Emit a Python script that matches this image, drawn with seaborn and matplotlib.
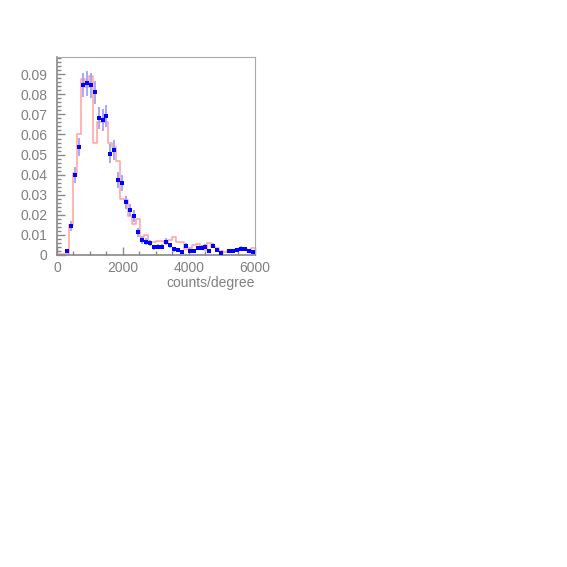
import numpy as np
import matplotlib
matplotlib.use('Agg')
import matplotlib.pyplot as plt
from matplotlib.ticker import MultipleLocator
import seaborn as sns

# 50 bins of 120 counts/degree between 0 and 6000
bin_edges = [120 * i for i in range(51)]
bin_centers = [60 + 120 * i for i in range(50)]

# simulation (pink step histogram)
sim_values = [0.0005, 0.0005, 0.0005, 0.015, 0.041, 0.060, 0.0875, 0.0839, 0.089, 0.056,
              0.066, 0.066, 0.066, 0.056, 0.0537, 0.0468, 0.0277, 0.0274, 0.0196, 0.0153,
              0.0178, 0.0091, 0.0098, 0.0063, 0.0066, 0.0070, 0.0070, 0.0058, 0.0075, 0.0088,
              0.0066, 0.0063, 0.0032, 0.0035, 0.0050, 0.0053, 0.0042, 0.0023, 0.0061, 0.0038,
              0.0037, 0.0020, 0.0017, 0.0022, 0.0025, 0.0028, 0.0037, 0.0030, 0.0018, 0.0037]

# data points (blue) with errors
data_values = [np.nan, np.nan, 0.0018, 0.0146, 0.0400, 0.0538, 0.0845, 0.0854, 0.0844, 0.0810,
               0.0681, 0.0673, 0.0694, 0.0505, 0.0523, 0.0375, 0.0357, 0.0262, 0.0223, 0.0194,
               0.0113, 0.0075, 0.0066, 0.0060, 0.0038, 0.0042, 0.0042, 0.0066, 0.0048, 0.0028,
               0.0025, 0.0013, 0.0047, 0.0018, 0.0020, 0.0035, 0.0037, 0.0042, 0.0022, 0.0047,
               0.0023, 0.0008, np.nan, 0.0020, 0.0018, 0.0025, 0.0032, 0.0030, 0.0020, 0.0013]
data_errors = [0, 0, 0.0010, 0.0025, 0.0040, 0.0045, 0.0060, 0.0060, 0.0060, 0.0058,
               0.0055, 0.0055, 0.0055, 0.0047, 0.0048, 0.0040, 0.0040, 0.0033, 0.0031, 0.0029,
               0.0022, 0.0018, 0.0017, 0.0016, 0.0013, 0.0013, 0.0013, 0.0017, 0.0014, 0.0011,
               0.0011, 0.0008, 0.0014, 0.0009, 0.0009, 0.0012, 0.0012, 0.0013, 0.0010, 0.0014,
               0.0010, 0.0006, 0, 0.0009, 0.0009, 0.0010, 0.0011, 0.0011, 0.0009, 0.0008]

sns.set_style('white')
plt.rcParams['font.family'] = ['Liberation Sans', 'DejaVu Sans']

fig = plt.figure(figsize=(5.67, 5.67), dpi=100)
ax = fig.add_axes([0.1005, 0.5503, 0.3492, 0.3492])

# simulation histogram
sns.histplot(x=bin_centers, weights=sim_values, bins=bin_edges, element='step',
             fill=False, color='#ffa0a0', linewidth=1.1, ax=ax)

# data with error bars
ax.errorbar(bin_centers, data_values, yerr=data_errors, fmt='none',
            ecolor='#a0a0ff', elinewidth=1.3, capsize=0, zorder=3)
sns.scatterplot(x=bin_centers, y=data_values, marker='s', s=5, color='#0000ff',
                edgecolor='#0000ff', linewidth=0, ax=ax, zorder=4)

ax.set_xlim(0, 6000)
ax.set_ylim(0, 0.0986)
ax.set_xticks([0, 2000, 4000, 6000])
ax.xaxis.set_minor_locator(MultipleLocator(500))
ax.set_yticks([0, 0.01, 0.02, 0.03, 0.04, 0.05, 0.06, 0.07, 0.08, 0.09])
ax.set_yticklabels(['0', '0.01', '0.02', '0.03', '0.04', '0.05', '0.06', '0.07', '0.08', '0.09'])
ax.yaxis.set_minor_locator(MultipleLocator(0.002))

ax.tick_params(axis='both', which='both', direction='in', colors='#888888',
               labelcolor='#808080', labelsize=10, bottom=True, left=True,
               top=False, right=False)
ax.tick_params(axis='both', which='major', length=6, width=1)
ax.tick_params(axis='both', which='minor', length=3, width=1)
ax.tick_params(axis='x', pad=4)
ax.tick_params(axis='y', pad=7)

for side in ['left', 'bottom']:
    ax.spines[side].set_color('#888888')
    ax.spines[side].set_linewidth(1.2)
for side in ['top', 'right']:
    ax.spines[side].set_color('#aaaaaa')
    ax.spines[side].set_linewidth(0.8)

ax.set_ylabel('')
ax.set_xlabel('counts/degree', fontsize=10, color='#808080')
ax.xaxis.set_label_coords(1.0, -0.105)
ax.xaxis.label.set_horizontalalignment('right')

fig.savefig('out.png', dpi=100)
